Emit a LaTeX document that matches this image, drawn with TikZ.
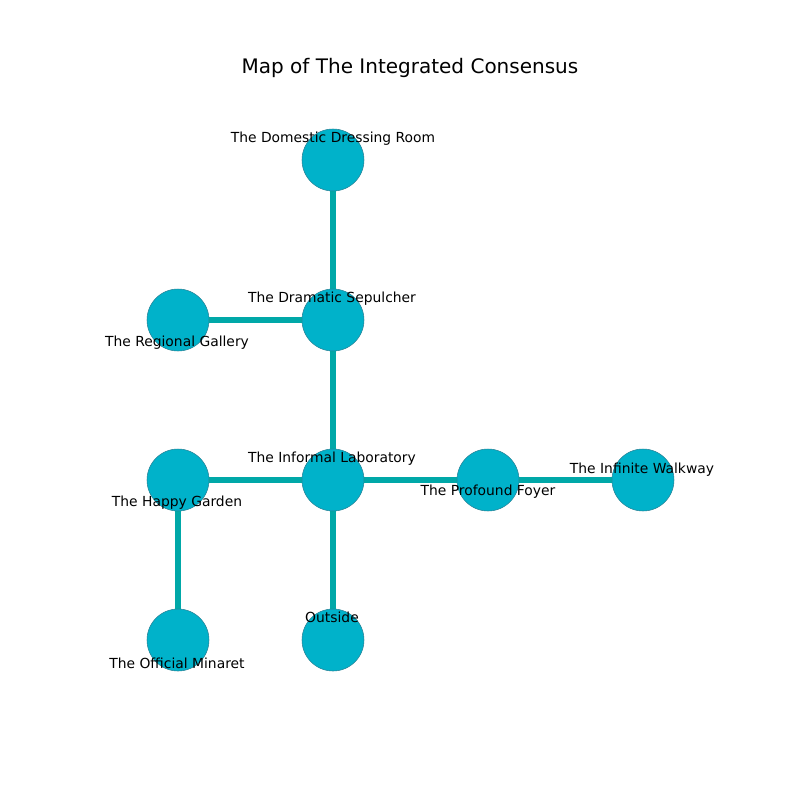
\documentclass[tikz,border=0pt]{standalone}
\usepackage{fontspec}
\setmainfont{DejaVu Sans}
\definecolor{nodefill}{RGB}{0,178,202}
\definecolor{nodeline}{RGB}{40,130,150}
\definecolor{edgecol}{RGB}{0,168,168}
\begin{document}
\begin{tikzpicture}[x=0.75pt,y=-0.75pt,
  room/.style={circle,fill=nodefill,draw=nodeline,line width=0.4pt,minimum size=46.5pt,inner sep=0pt},
  lbl/.style={font=\fontsize{10.4}{12}\selectfont,inner sep=0pt,anchor=center},
  link/.style={edgecol,line width=3.8pt}]
\useasboundingbox[fill=white] (0,0) rectangle (800,800);
\node[font=\fontsize{15}{18}\selectfont] (title) at (410,68) {Map of The Integrated Consensus};
% rooms
\coordinate (pdom) at (333,160);
\coordinate (pdra) at (333,320);
\coordinate (preg) at (178,320);
\coordinate (pinf) at (333,480);
\coordinate (phap) at (178,480);
\coordinate (ppro) at (488,480);
\coordinate (pwal) at (643,480);
\coordinate (poff) at (178,640);
\coordinate (pout) at (333,640);
\draw[link] (pdom) -- (pdra);
\draw[link] (pdra) -- (preg);
\draw[link] (pdra) -- (pinf);
\draw[link] (pinf) -- (phap);
\draw[link] (pinf) -- (ppro);
\draw[link] (ppro) -- (pwal);
\draw[link] (pinf) -- (pout);
\draw[link] (phap) -- (poff);
\node[room] (dom) at (pdom) {};
\node[room] (dra) at (pdra) {};
\node[room] (reg) at (preg) {};
\node[room] (inf) at (pinf) {};
\node[room] (hap) at (phap) {};
\node[room] (pro) at (ppro) {};
\node[room] (wal) at (pwal) {};
\node[room] (off) at (poff) {};
\node[room] (out) at (pout) {};
% labels
\node[lbl] (ldom) at (333,139) {The Domestic Dressing Room};
\node[lbl] (ldra) at (332,299) {The Dramatic Sepulcher};
\node[lbl] (lreg) at (177,343) {The Regional Gallery};
\node[lbl] (linf) at (332,459) {The Informal Laboratory};
\node[lbl] (lhap) at (177,503) {The Happy Garden};
\node[lbl] (lpro) at (488,492) {The Profound Foyer};
\node[lbl] (lwal) at (642,470) {The Infinite Walkway};
\node[lbl] (lout) at (332,617) {Outside};
\node[lbl] (loff) at (177,663) {The Official Minaret};
\end{tikzpicture}
\end{document}
